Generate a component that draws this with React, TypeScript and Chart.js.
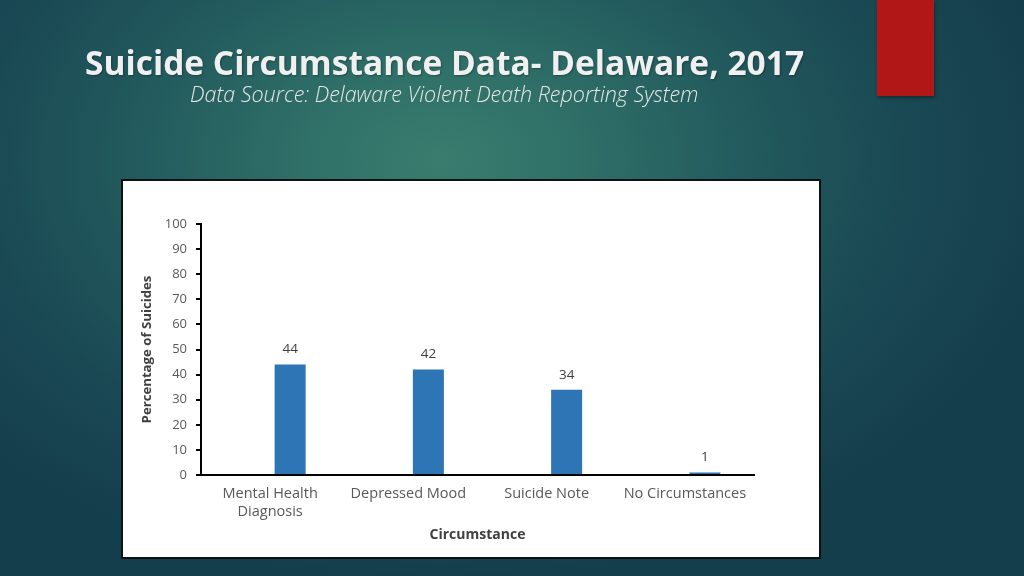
import React, { useEffect, useRef } from "react";
import { Chart, registerables } from "chart.js";

Chart.register(...registerables);

const categories: (string | string[])[] = [
  ["Mental Health", "Diagnosis"],
  "Depressed Mood",
  "Suicide Note",
  "No Circumstances",
];
const percentages: number[] = [44, 42, 34, 1];
const emptySeries: (number | null)[] = [null, null, null, null];
const yTicks: number[] = [0, 10, 20, 30, 40, 50, 60, 70, 80, 90, 100];

const FONT = "'Open Sans', 'Liberation Sans', sans-serif";

const dataLabelPlugin = {
  id: "dataLabels",
  afterDatasetsDraw(chart: any) {
    const ctx = chart.ctx;
    const meta = chart.getDatasetMeta(1);
    ctx.save();
    ctx.font = `13.5px ${FONT}`;
    ctx.fillStyle = "#404040";
    ctx.textAlign = "center";
    ctx.textBaseline = "middle";
    meta.data.forEach((bar: any, i: number) => {
      const v = chart.data.datasets[1].data[i];
      ctx.fillText(String(v), bar.x, bar.y - 15);
    });
    ctx.restore();
  },
};

export default function App() {
  const canvasRef = useRef<HTMLCanvasElement | null>(null);

  useEffect(() => {
    if (!canvasRef.current) return;
    const chart = new Chart(canvasRef.current, {
      type: "bar",
      data: {
        labels: categories,
        datasets: [
          {
            label: "empty",
            data: emptySeries,
            backgroundColor: "#2e75b6",
          },
          {
            label: "Percentage",
            data: percentages,
            backgroundColor: "#2e75b6",
          },
        ],
      },
      options: {
        animation: false,
        responsive: false,
        maintainAspectRatio: false,
        categoryPercentage: 0.579,
        barPercentage: 0.775,
        layout: { padding: { top: 43, right: 65, left: 0, bottom: 0 } },
        plugins: {
          legend: { display: false },
          tooltip: { enabled: false },
        },
        scales: {
          x: {
            grid: { display: false },
            border: { display: true, color: "#000", width: 2 },
            ticks: {
              color: "#595959",
              font: { family: FONT, size: 14.5, lineHeight: 1.24 },
              padding: 2,
              maxRotation: 0,
              autoSkip: false,
            },
            title: {
              display: true,
              text: "Circumstance",
              color: "#404040",
              font: { family: FONT, size: 14, weight: "bold" },
              padding: { top: 4, bottom: 14 },
            },
            afterFit(scale: any) {
              scale.height = 82;
            },
          },
          y: {
            min: 0,
            max: 100,
            afterBuildTicks(scale: any) {
              scale.ticks = yTicks.map((v) => ({ value: v }));
            },
            grid: {
              drawOnChartArea: false,
              drawTicks: true,
              tickLength: 5,
              color: "#000",
              lineWidth: 2,
            },
            border: { display: true, color: "#000", width: 2 },
            ticks: {
              color: "#595959",
              font: { family: FONT, size: 13 },
              padding: 9,
            },
            title: {
              display: true,
              text: "Percentage of Suicides",
              color: "#404040",
              font: { family: FONT, size: 13.2, weight: "bold" },
              padding: { top: 16, bottom: 4 },
            },
            afterFit(scale: any) {
              scale.width = 78;
            },
          },
        },
      },
      plugins: [dataLabelPlugin],
    });
    return () => chart.destroy();
  }, []);

  return (
    <div
      style={{
        position: "fixed",
        left: 0,
        top: 0,
        width: 1024,
        height: 576,
        overflow: "hidden",
        background:
          "radial-gradient(ellipse 620px 420px at 440px 160px, #3a7d6e 0%, #2f7068 22%, #225a5d 50%, #1a4954 75%, #153e4d 100%)",
      }}
    >
      <div
        style={{
          position: "absolute",
          left: 877,
          top: 0,
          width: 57,
          height: 96,
          background: "#b21717",
          boxShadow: "1px 2px 3px rgba(0,0,0,0.35)",
        }}
      />
      <div
        style={{
          position: "absolute",
          left: 85,
          top: 42,
          fontFamily: FONT,
          fontWeight: 700,
          fontSize: 33.5,
          lineHeight: "40px",
          color: "#f0f0f0",
          whiteSpace: "nowrap",
          textShadow: "1px 1px 2px rgba(0,0,0,0.3)",
        }}
      >
        Suicide Circumstance Data- Delaware, 2017
      </div>
      <div
        style={{
          position: "absolute",
          left: 190,
          top: 81,
          fontFamily: FONT,
          fontStyle: "italic",
          fontWeight: 300,
          fontSize: 21.5,
          lineHeight: "26px",
          color: "#e6e6e6",
          whiteSpace: "nowrap",
        }}
      >
        Data Source: Delaware Violent Death Reporting System
      </div>
      <div
        style={{
          position: "absolute",
          left: 121,
          top: 179,
          width: 696,
          height: 376,
          background: "#ffffff",
          border: "2px solid #111",
        }}
      >
        <canvas
          ref={canvasRef}
          width={696}
          height={376}
          style={{ display: "block", width: 696, height: 376 }}
        />
      </div>
    </div>
  );
}
